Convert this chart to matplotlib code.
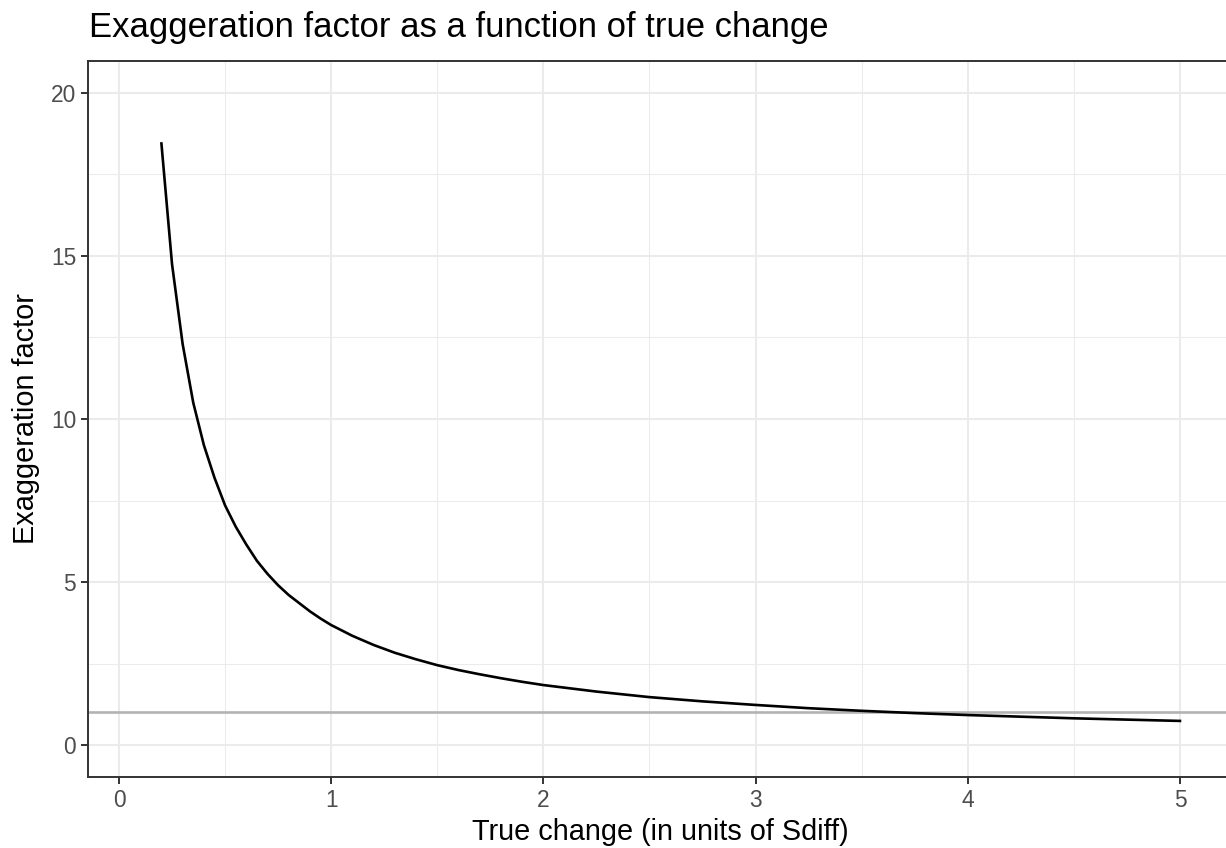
import matplotlib
matplotlib.use("Agg")
import matplotlib.pyplot as plt
from matplotlib.ticker import MultipleLocator

# values
true_change = [0.20, 0.25, 0.30, 0.35, 0.40, 0.45, 0.50, 0.55, 0.60, 0.65,
               0.70, 0.75, 0.80, 0.85, 0.90, 0.95, 1.00, 1.10, 1.20, 1.30,
               1.40, 1.50, 1.60, 1.70, 1.80, 1.90, 2.00, 2.25, 2.50, 2.75,
               3.00, 3.25, 3.50, 3.75, 4.00, 4.25, 4.50, 4.75, 5.00]
exaggeration = [18.45, 14.75, 12.30, 10.50, 9.20, 8.20, 7.35, 6.70, 6.15, 5.65,
                5.25, 4.90, 4.60, 4.35, 4.10, 3.88, 3.68, 3.35, 3.07, 2.83,
                2.63, 2.45, 2.30, 2.17, 2.05, 1.94, 1.84, 1.64, 1.47, 1.34,
                1.23, 1.13, 1.05, 0.98, 0.92, 0.87, 0.82, 0.78, 0.74]
ref_level = 1

x_ticks = [0, 1, 2, 3, 4, 5]
y_ticks = [0, 5, 10, 15, 20]

plt.rcParams['font.family'] = ['Liberation Sans', 'DejaVu Sans']

W, H = 1226, 848
fig = plt.figure(figsize=(W / 100, H / 100), dpi=100)
left, right, bottom, top = 88, 1226, 777, 61
ax = fig.add_axes([left / W, 1 - bottom / H, (right - left) / W, (bottom - top) / H])

ax.axhline(ref_level, color='#B3B3B3', lw=1.9, zorder=2)
ax.plot(true_change, exaggeration, color='black', lw=1.9, zorder=3)

ax.set_xlim(-0.146, 5.217)
ax.set_ylim(-0.98, 20.98)
ax.set_xticks(x_ticks)
ax.set_yticks(y_ticks)
ax.xaxis.set_minor_locator(MultipleLocator(0.5))
ax.yaxis.set_minor_locator(MultipleLocator(2.5))
ax.grid(which='major', color='#EBEBEB', lw=1.5, zorder=0)
ax.grid(which='minor', color='#EBEBEB', lw=0.75, zorder=0)
ax.set_axisbelow(True)
ax.tick_params(which='minor', length=0)
ax.tick_params(which='major', length=5, width=1.4, color='#333333',
               labelcolor='#4D4D4D', labelsize=16.4)
ax.tick_params(axis='x', pad=3.5)
ax.tick_params(axis='y', pad=3.5)

for side in ['left', 'bottom', 'top']:
    ax.spines[side].set_color('#333333')
    ax.spines[side].set_linewidth(1.4)
ax.spines['right'].set_visible(False)

ax.set_xlabel('True change (in units of Sdiff)', fontsize=20.8)
ax.set_ylabel('Exaggeration factor', fontsize=20.8)
ax.xaxis.set_label_coords((660 - left) / (right - left), -(840 - bottom) / (bottom - top))
ax.xaxis.label.set_va('baseline')
ax.yaxis.set_label_coords(-(88 - 26) / (right - left), 0.5)
ax.yaxis.label.set_va('center')

fig.text((left + 1) / W, 1 - 37 / H, 'Exaggeration factor as a function of true change',
         fontsize=24.9, ha='left', va='baseline')

fig.savefig('out.png', dpi=100)
